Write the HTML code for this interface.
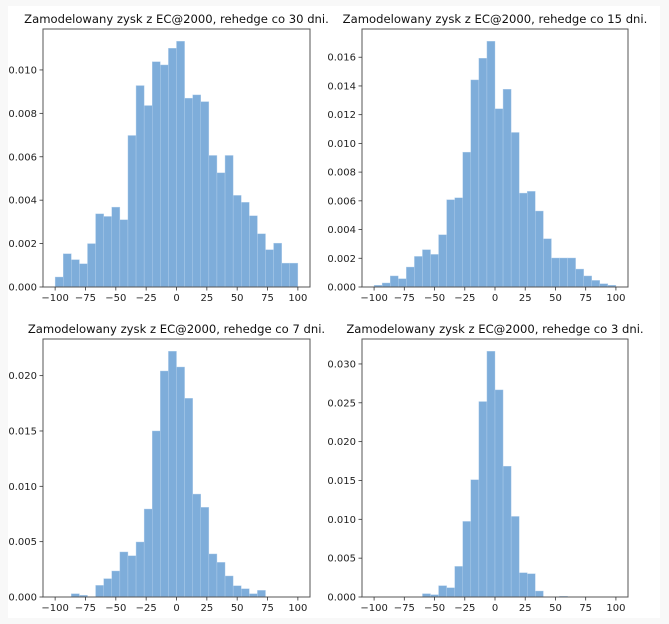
<!DOCTYPE html>
<html><head><meta charset="utf-8"><style>
body{margin:0;background:#fff;}
svg{display:block;font-family:"DejaVu Sans","Liberation Sans",sans-serif;}
</style></head><body>
<svg id="fig" width="669" height="624" viewBox="0 0 669 624">
<rect x="0" y="0" width="669" height="624" fill="#f8f8f8"/>
<rect x="8" y="6" width="652" height="612" fill="#ffffff"/>
</svg>
<script>
const titles=["Zamodelowany zysk z EC@2000, rehedge co 30 dni.","Zamodelowany zysk z EC@2000, rehedge co 15 dni.","Zamodelowany zysk z EC@2000, rehedge co 7 dni.","Zamodelowany zysk z EC@2000, rehedge co 3 dni."];
const xTicks=[-100,-75,-50,-25,0,25,50,75,100];
const yTicks30=[0,0.002,0.004,0.006,0.008,0.010];
const yTicks15=[0,0.002,0.004,0.006,0.008,0.010,0.012,0.014,0.016];
const yTicks7=[0,0.005,0.010,0.015,0.020];
const yTicks3=[0,0.005,0.010,0.015,0.020,0.025,0.030];
const dens30=[0.00046,0.00153,0.00126,0.00107,0.0020,0.00337,0.00325,0.00368,0.0031,0.00698,0.00928,0.00836,0.01038,0.01023,0.0110,0.01132,0.0087,0.00885,0.00854,0.00606,0.00526,0.00606,0.00422,0.0039,0.00328,0.00245,0.00172,0.00202,0.0011,0.0011];
const dens15=[0.00012,0.00028,0.00077,0.00058,0.00139,0.00213,0.0026,0.00227,0.00364,0.00608,0.00621,0.00939,0.01442,0.01593,0.01711,0.01241,0.01377,0.01076,0.00654,0.00666,0.00529,0.00336,0.00202,0.00202,0.00202,0.00125,0.00077,0.00046,0.00023,0.00012];
const dens7=[0,0,0.0003,0.00015,0,0.00105,0.00166,0.00235,0.00407,0.00373,0.00497,0.00795,0.0150,0.02042,0.0222,0.02078,0.01795,0.0093,0.0081,0.00389,0.00313,0.0019,0.00102,0.00075,0.0003,0.0006,0,0,0,0];
const dens3=[0,0,0,0,0,0,0.00043,0.0003,0.00146,0.0012,0.00394,0.00973,0.0151,0.02516,0.03163,0.02666,0.01684,0.01037,0.00313,0.003,0.00077,0,0,0.0001,0,0,0,0,0,0];
const panels=[
 {box:[43,29,310,287],d:dens30,yt:yTicks30,dec:3,name:"30"},
 {box:[362,29,628,287],d:dens15,yt:yTicks15,dec:3,name:"15"},
 {box:[43,339,310,597],d:dens7,yt:yTicks7,dec:3,name:"7"},
 {box:[362,339,628,597],d:dens3,yt:yTicks3,dec:3,name:"3"}];
const NS="http://www.w3.org/2000/svg";
const svg=document.getElementById('fig');
function mk(tag,attrs,parent){const e=document.createElementNS(NS,tag);for(const k in attrs)e.setAttribute(k,attrs[k]);(parent||svg).appendChild(e);return e;}
panels.forEach((p,pi)=>{
 const [x0,y0,x1,y1]=p.box;
 const g=mk('g',{});
 
 
 const ymax=Math.max(...p.d)*1.05;
 const sx=v=>x0+(v+110)/220*(x1-x0);
 const sy=v=>y1-v/ymax*(y1-y0);
 const n=p.d.length, w=200/n;
 p.d.forEach((v,i)=>{
  if(v<=0)return;
  const a=sx(-100+i*w), b=sx(-100+(i+1)*w);
  const r=mk('rect',{x:a,y:sy(v),width:b-a,height:y1-sy(v),fill:'#7eadda',stroke:'#b4d0ec','stroke-width':0.4},g);
  
  
 });
 const fr=mk('rect',{x:x0,y:y0,width:x1-x0,height:y1-y0,fill:'none',stroke:'#555','stroke-width':1},g);
 
 
 xTicks.forEach(t=>{
  const x=sx(t);
  mk('line',{x1:x,x2:x,y1:y1,y2:y1+3.5,stroke:'#333','stroke-width':0.8},g);
  const tx=mk('text',{x:x,y:y1+14,'font-size':10,'text-anchor':'middle',fill:'#222'},g);
  tx.textContent=(t<0?'\u2212'+(-t):String(t));
  
  
 });
 p.yt.forEach(t=>{
  const y=sy(t);
  mk('line',{x1:x0-3.5,x2:x0,y1:y,y2:y,stroke:'#333','stroke-width':0.8},g);
  const tx=mk('text',{x:x0-6,y:y+3.5,'font-size':10,'text-anchor':'end',fill:'#222'},g);
  tx.textContent=t.toFixed(p.dec);
  
  
 });
 const tt=mk('text',{x:(x0+x1)/2,y:y0-6,'font-size':11.6,'text-anchor':'middle',fill:'#111'},g);
 tt.textContent=titles[pi];
 
 
});
</script>
</body></html>
